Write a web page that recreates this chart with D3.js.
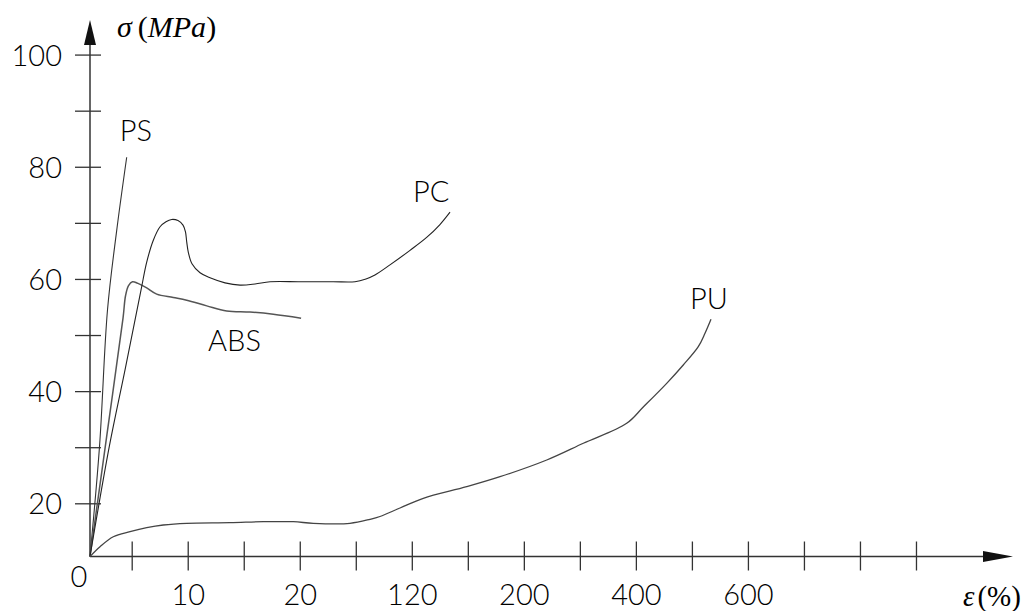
<!DOCTYPE html>
<html>
<head>
<meta charset="utf-8">
<script src="https://cdn.jsdelivr.net/npm/d3@7"></script>
<style>
  html, body { margin: 0; padding: 0; background: #fff; }
  svg { display: block; }
  .lbl { font-family: "Lato", "Open Sans", sans-serif; font-weight: 300; fill: #000; }
  .title { font-family: "Liberation Serif", "Times New Roman", serif; fill: #000; }
</style>
</head>
<body>
<svg id="chart" width="1032" height="611"></svg>
<script>
// Strain axis: broken scale, one tick per breakpoint
const strainBreaks = [0, 5, 10, 15, 20, 70, 120, 160, 200, 300, 400, 500, 600, 700, 800, 900];
const strainLabels = [10, 20, 120, 200, 400, 600];

// Stress axis (MPa)
const stressTicks = [20, 30, 40, 50, 60, 70, 80, 90, 100];
const stressLabels = [20, 40, 60, 80, 100];

// Stress-strain curves: strain (%) and stress (MPa)
const psStrain = [0, 1.14, 2.10, 3.18, 4.40];
const psStress = [0, 30.1, 54.5, 68.4, 81.7];

const absStrain = [0, 1.98, 3.96, 4.26, 4.62, 5.07, 5.56, 6.34, 7.23, 8.71, 9.91, 11.70, 13.48, 15.56, 17.64, 21.2];
const absStress = [0, 31.7, 53.0, 57.0, 58.8, 59.5, 59.2, 58.4, 57.3, 56.7, 56.2, 55.2, 54.3, 54.1, 53.7, 53.0];

const pcStrain = [0, 2.31, 4.20, 5.83, 6.34, 6.93, 7.53, 8.06, 8.57, 9.13, 9.58, 9.80, 9.91, 10.05, 10.38, 11.10,
                  11.99, 13.33, 14.67, 16.01, 17.35, 20.3, 49.7, 69.3, 79.1, 87.1, 100.5, 118.4, 130.6, 140.1, 147.3];
const pcStress = [0, 30.1, 43.8, 58.0, 63.0, 66.9, 69.3, 70.2, 70.6, 70.4, 69.6, 68.4, 66.6, 64.8, 62.7, 61.1,
                  60.2, 59.3, 58.9, 59.1, 59.5, 59.5, 59.5, 59.5, 60.0, 60.7, 62.5, 65.1, 67.4, 69.7, 71.9];

const puStrain = [0, 1.20, 2.79, 4.80, 6.34, 7.82, 9.91, 13.78, 16.75, 19.43, 32.1, 64.8, 82.7, 91.6, 109.5,
                  128.2, 159.2, 183.0, 240.9, 306.2, 383.6, 413.2, 455, 484.6, 511.4, 523.4, 534.1];
const puStress = [0, 3.68, 7.44, 9.32, 10.83, 11.84, 12.48, 12.71, 13.08, 13.08, 12.48, 12.48, 13.98, 15.04, 18.23,
                  20.89, 22.96, 24.74, 27.72, 30.70, 34.26, 37.17, 41.39, 44.66, 47.92, 50.31, 52.80];

const materials = ["PS", "ABS", "PC", "PU"];

// ---- layout ----
const originX = 90, originY = 556.5;
const firstGapX = 41.7, stepX = 56.02;
const firstGapY = 53.2, stepY = 56.09;   // stepY per 10 MPa
const xArrowTip = 1013, yArrowTip = 20;

const svg = d3.select("#chart");

const x = d3.scaleLinear()
  .domain(strainBreaks)
  .range(strainBreaks.map((d, i) => i === 0 ? originX : originX + firstGapX + (i - 1) * stepX));

const y = d3.scaleLinear()
  .domain([0, 20, 100])
  .range([originY, originY - firstGapY, originY - firstGapY - 8 * stepY]);

const curves = {
  PS:  { strain: psStrain,  stress: psStress,  color: "#333", width: 1.1, label: [-7, -16] },
  ABS: { strain: absStrain, stress: absStress, color: "#555", width: 1.5, label: [-93, 33] },
  PC:  { strain: pcStrain,  stress: pcStress,  color: "#222", width: 1.1, label: [-37, -10] },
  PU:  { strain: puStrain,  stress: puStress,  color: "#444", width: 1.3, label: [-21, -10] }
};

const axisColor = "#333";

// ---- axes ----
const gx = svg.append("g").attr("transform", `translate(0,${originY})`)
  .call(d3.axisBottom(x)
    .tickValues(strainBreaks.slice(1))
    .tickSize(0)
    .tickFormat(d => strainLabels.includes(d) ? String(d) : ""));
gx.select(".domain").remove();
gx.selectAll(".tick line").attr("y1", -15).attr("y2", 14)
  .attr("stroke", axisColor).attr("stroke-width", 1.3);
gx.selectAll(".tick text").attr("class", "lbl").attr("y", 48).attr("dy", null)
  .style("font-size", "29px");

const gy = svg.append("g").attr("transform", `translate(${originX},0)`)
  .call(d3.axisLeft(y)
    .tickValues(stressTicks)
    .tickSize(0)
    .tickFormat(d => stressLabels.includes(d) ? String(d) : ""));
gy.select(".domain").remove();
gy.selectAll(".tick line").attr("x1", -15).attr("x2", 11)
  .attr("stroke", axisColor).attr("stroke-width", 1.3);
gy.selectAll(".tick text").attr("class", "lbl").attr("x", -28).attr("dy", "0.36em")
  .style("font-size", "29px");

// axis lines with arrow heads
svg.append("line").attr("x1", originX).attr("y1", originY).attr("x2", xArrowTip - 26).attr("y2", originY)
  .attr("stroke", axisColor).attr("stroke-width", 1.5);
svg.append("path")
  .attr("d", `M${xArrowTip},${originY} L${xArrowTip - 30},${originY - 5.5} L${xArrowTip - 30},${originY + 5.5} Z`)
  .attr("fill", "#111");
svg.append("line").attr("x1", originX).attr("y1", originY).attr("x2", originX).attr("y2", yArrowTip + 22)
  .attr("stroke", axisColor).attr("stroke-width", 1.5);
svg.append("path")
  .attr("d", `M${originX},${yArrowTip} L${originX - 6},${yArrowTip + 25} L${originX + 6},${yArrowTip + 25} Z`)
  .attr("fill", "#111");

// origin label
svg.append("text").attr("class", "lbl").attr("x", originX - 11).attr("y", originY + 30)
  .attr("text-anchor", "middle").style("font-size", "29px").text("0");

// axis titles
const yt = svg.append("text").attr("class", "title").attr("x", originX + 27).attr("y", 37).style("font-size", "30px");
yt.append("tspan").style("font-style", "italic").text("σ");
yt.append("tspan").attr("dx", 6).text("(");
yt.append("tspan").style("font-style", "italic").text("MPa");
yt.append("tspan").text(")");

const xt = svg.append("text").attr("class", "title").attr("x", 963).attr("y", 606).style("font-size", "29px");
xt.append("tspan").style("font-style", "italic").text("ε");
xt.append("tspan").attr("dx", 3).text("(%)");

// ---- curves ----
const line = d3.line()
  .x(d => x(d[0]))
  .y(d => y(d[1]))
  .curve(d3.curveCatmullRom.alpha(0.5));

materials.forEach(name => {
  const c = curves[name];
  const pts = c.strain.map((s, i) => [s, c.stress[i]]);
  svg.append("path")
    .datum(pts)
    .attr("d", line)
    .attr("fill", "none")
    .attr("stroke", c.color)
    .attr("stroke-width", c.width)
    .attr("stroke-linejoin", "round");
  const end = pts[pts.length - 1];
  svg.append("text").attr("class", "lbl")
    .attr("x", x(end[0]) + c.label[0])
    .attr("y", y(end[1]) + c.label[1])
    .style("font-size", "29px")
    .text(name);
});
</script>
</body>
</html>
